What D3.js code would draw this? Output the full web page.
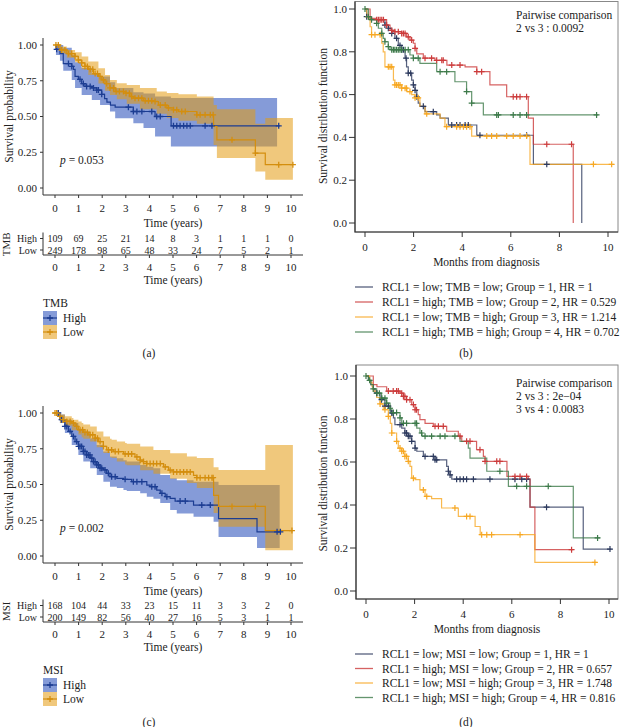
<!DOCTYPE html>
<html><head><meta charset="utf-8">
<script src="https://cdn.jsdelivr.net/npm/d3@7"></script>
<style>
body{margin:0;background:#fff}
svg{display:block}
text{font-family:"Liberation Serif","DejaVu Serif",serif;fill:#222}
</style>
</head><body>
<svg id="c" width="620" height="727"></svg>
<script>
// ---------------- DATA ----------------
const years = [0,1,2,3,4,5,6,7,8,9,10];
const riskGroups = ["High","Low"];
const tmbRiskHigh = [109,69,25,21,14,8,3,1,1,1,0];
const tmbRiskLow  = [249,178,98,65,48,33,24,7,5,2,1];
const msiRiskHigh = [168,104,44,33,23,15,11,3,3,2,0];
const msiRiskLow  = [200,149,82,56,40,27,16,5,3,1,1];

// panel (a) TMB: [time, survival]
const tmbHighCurve = [[0,1],[0.04,0.97],[0.21,0.94],[0.35,0.87],[0.71,0.85],[0.78,0.83],[0.85,0.78],[0.99,0.76],[1.13,0.73],[1.27,0.71],[1.55,0.70],[1.77,0.685],[1.98,0.655],[2.1,0.625],[2.2,0.6],[2.35,0.58],[2.55,0.565],[3.32,0.535],[4.24,0.50],[4.92,0.435],[9.52,0.435]];
const tmbHighCensor = [0.07,0.57,0.71,1.06,1.2,1.34,1.49,1.63,1.77,1.84,1.98,3.11,3.32,3.47,3.68,4.1,4.31,4.46,5.02,5.16,5.3,5.45,5.59,5.73,6.36,6.65,9.48];
// [time, lower, upper]
const tmbHighBand = [[0,1,1],[0.04,0.93,1],[0.21,0.89,1],[0.35,0.82,0.98],[0.71,0.756,0.93],[0.85,0.70,0.88],[1.13,0.65,0.84],[1.56,0.616,0.80],[1.91,0.58,0.78],[2.33,0.535,0.74],[2.55,0.488,0.70],[3.32,0.453,0.67],[3.75,0.42,0.66],[4.24,0.36,0.64],[4.91,0.29,0.63],[9.41,0.29,0.63]];
const tmbLowCurve = [[0,1],[0.21,0.965],[0.5,0.94],[0.85,0.92],[0.99,0.895],[1.13,0.875],[1.27,0.85],[1.41,0.83],[1.63,0.80],[1.84,0.78],[1.98,0.756],[2.12,0.73],[2.33,0.70],[2.55,0.675],[2.97,0.663],[3.18,0.64],[3.32,0.628],[3.75,0.61],[4.17,0.605],[4.38,0.58],[4.74,0.56],[5.02,0.547],[5.23,0.535],[6.01,0.512],[6.72,0.43],[6.86,0.337],[8.49,0.244],[8.91,0.163],[10.08,0.163]];
const tmbLowCensor = [0.04,0.14,0.28,0.42,0.57,0.71,0.85,0.99,1.13,1.27,1.37,1.49,1.6,1.7,1.8,1.91,2.05,2.19,2.33,2.48,2.59,2.73,2.9,3.01,3.15,3.25,3.39,3.54,3.68,3.82,3.96,4.1,4.24,4.46,4.67,4.81,5.02,5.16,5.37,5.52,6.01,6.15,6.36,6.58,6.7,7.5,8.49,9.48,10.08];
const tmbLowBand = [[0,1,1],[0.21,0.94,0.99],[0.5,0.91,0.965],[0.85,0.88,0.95],[1.13,0.83,0.92],[1.41,0.79,0.884],[1.84,0.73,0.837],[2.12,0.68,0.79],[2.33,0.65,0.756],[2.62,0.62,0.733],[3.04,0.59,0.72],[3.6,0.55,0.70],[4.31,0.52,0.675],[4.74,0.49,0.665],[5.23,0.47,0.655],[6.01,0.45,0.64],[6.72,0.3,0.58],[6.86,0.21,0.55],[8.49,0.116,0.45],[8.91,0.058,0.49],[10.08,0.058,0.49]];

// panel (c) MSI
const msiHighCurve = [[0,1],[0.21,0.953],[0.42,0.906],[0.57,0.871],[0.71,0.836],[0.85,0.80],[0.99,0.766],[1.2,0.731],[1.34,0.707],[1.49,0.684],[1.63,0.66],[1.77,0.637],[1.91,0.614],[2.05,0.602],[2.19,0.578],[2.33,0.555],[2.62,0.543],[2.9,0.536],[3.25,0.52],[3.89,0.496],[4.03,0.485],[4.31,0.461],[4.46,0.438],[4.67,0.415],[4.88,0.403],[5.09,0.384],[5.87,0.356],[6.93,0.262],[8.56,0.169],[9.52,0.169]];
const msiHighCensor = [0.07,0.14,0.28,0.42,0.5,0.64,0.78,0.92,1.0,1.06,1.13,1.2,1.27,1.34,1.41,1.48,1.56,1.63,1.7,1.77,1.84,1.91,1.98,2.12,2.26,2.4,2.55,2.97,3.32,3.47,3.68,4.1,4.24,4.53,4.74,5.3,5.52,6.22,6.58,9.41,9.55];
const msiHighBand = [[0,1,1],[0.21,0.93,0.99],[0.42,0.86,0.953],[0.71,0.777,0.93],[0.99,0.707,0.89],[1.2,0.66,0.871],[1.49,0.614,0.824],[1.77,0.567,0.777],[2.05,0.52,0.731],[2.33,0.485,0.696],[2.62,0.475,0.684],[2.9,0.461,0.67],[3.04,0.455,0.66],[3.61,0.438,0.637],[3.89,0.415,0.625],[4.17,0.40,0.614],[4.46,0.37,0.567],[4.88,0.321,0.543],[5.16,0.297,0.53],[5.87,0.274,0.52],[6.72,0.239,0.52],[6.93,0.133,0.496],[8.56,0.056,0.496],[9.52,0.056,0.496]];
const msiLowCurve = [[0,1],[0.14,0.977],[0.28,0.953],[0.5,0.941],[0.71,0.93],[0.85,0.906],[0.99,0.883],[1.2,0.864],[1.41,0.848],[1.7,0.824],[1.84,0.80],[2.05,0.766],[2.19,0.742],[2.48,0.73],[2.9,0.714],[3.39,0.693],[3.61,0.67],[3.75,0.66],[3.89,0.646],[4.6,0.623],[4.81,0.60],[5.02,0.588],[5.87,0.564],[6.01,0.548],[6.72,0.424],[6.93,0.347],[8.91,0.178],[10.08,0.178]];
const msiLowCensor = [0.0,0.07,0.21,0.35,0.5,0.64,0.78,0.92,1.06,1.17,1.27,1.37,1.49,1.6,1.7,1.8,1.91,2.05,2.26,2.4,2.55,2.69,2.97,3.11,3.25,3.47,3.61,3.75,3.89,4.03,4.17,4.31,4.46,4.67,4.88,5.02,5.16,5.3,5.45,5.59,5.73,6.01,6.15,6.36,6.51,6.65,6.7,7.5,8.49,10.04];
const msiLowBand = [[0,1,1],[0.21,0.93,0.99],[0.42,0.91,0.977],[0.71,0.88,0.965],[0.78,0.88,0.953],[0.99,0.85,0.94],[1.13,0.83,0.93],[1.2,0.82,0.92],[1.49,0.80,0.906],[1.77,0.76,0.871],[2.05,0.72,0.836],[2.33,0.69,0.82],[2.4,0.685,0.813],[2.62,0.66,0.80],[2.97,0.64,0.79],[3.04,0.635,0.785],[3.61,0.60,0.766],[4.17,0.575,0.742],[4.88,0.54,0.719],[5.59,0.51,0.696],[6.01,0.475,0.685],[6.72,0.3,0.62],[6.93,0.204,0.602],[8.91,0.04,0.777],[10.08,0.04,0.777]];

// panel (b) RCL1 x TMB groups
const tmbGroupLabels = ["RCL1 = low; TMB = low; Group = 1, HR = 1","RCL1 = high; TMB = low; Group = 2, HR = 0.529","RCL1 = low; TMB = high; Group = 3, HR = 1.214","RCL1 = high; TMB = high; Group = 4, HR = 0.702"];
const tmbG1 = [[0,1],[0.07,0.964],[0.27,0.95],[0.82,0.925],[0.96,0.91],[1.1,0.886],[1.23,0.863],[1.37,0.83],[1.51,0.81],[1.65,0.77],[1.71,0.73],[1.78,0.70],[1.92,0.668],[1.99,0.645],[2.06,0.62],[2.13,0.59],[2.19,0.56],[2.26,0.545],[2.47,0.52],[2.95,0.505],[3.09,0.49],[3.43,0.458],[4.6,0.41],[6.93,0.274],[8.92,0]];
const tmbG1Censor = [0.07,0.82,0.96,1.1,1.3,1.44,1.51,1.58,1.69,1.78,1.88,1.99,2.06,2.13,2.4,2.81,3.57,3.77,3.91,4.12,4.25,4.73,6.65,7.48];
const tmbG2 = [[0,1],[0.21,0.956],[0.48,0.95],[0.89,0.925],[1.03,0.90],[1.23,0.894],[1.51,0.886],[1.71,0.87],[1.85,0.855],[1.99,0.84],[2.06,0.816],[2.13,0.79],[2.4,0.77],[2.88,0.76],[3.37,0.738],[4.12,0.73],[4.6,0.707],[5.14,0.645],[5.83,0.59],[6.72,0.49],[6.93,0.368],[8.57,0]];
const tmbG2Censor = [0.48,0.55,0.62,0.69,0.76,0.89,1.1,1.23,1.37,1.51,1.58,1.65,1.78,1.92,2.06,2.47,2.74,2.95,3.16,3.22,3.57,3.91,4.6,4.8,6.1,6.24,6.38,6.65,7.48,8.5];
const tmbG3 = [[0,1],[0.07,0.964],[0.21,0.917],[0.27,0.88],[0.69,0.84],[0.75,0.80],[0.82,0.73],[1.17,0.668],[1.23,0.645],[1.51,0.63],[1.72,0.614],[1.92,0.60],[2.06,0.585],[2.26,0.545],[2.47,0.51],[3.09,0.49],[3.29,0.45],[4.39,0.406],[6.79,0.274],[10.23,0.274]];
const tmbG3Censor = [0.14,0.27,0.41,0.62,0.96,1.03,1.1,1.23,1.3,1.37,1.44,1.51,1.65,1.71,1.85,2.06,2.19,2.54,3.36,3.77,3.91,4.05,4.18,4.32,5.01,5.21,5.42,5.83,6.1,6.38,6.65,9.4,10.15];
const tmbG4 = [[0,1],[0.14,0.964],[0.21,0.95],[0.48,0.933],[0.55,0.91],[0.69,0.886],[0.75,0.863],[0.82,0.847],[0.96,0.824],[1.03,0.81],[1.85,0.785],[1.99,0.77],[2.26,0.746],[2.95,0.707],[3.7,0.66],[4.18,0.614],[4.39,0.56],[4.87,0.505],[9.6,0.505]];
const tmbG4Censor = [0,0.14,0.27,0.48,0.69,0.82,0.96,1.1,1.17,1.23,1.3,1.37,1.44,1.51,1.65,1.78,1.99,2.19,3.09,3.36,4.18,4.39,5.42,5.49,6.1,6.38,6.65,9.53];
const tmbPairwise = ["Pairwise comparison","2 vs 3 : 0.0092"];

// panel (d) RCL1 x MSI groups
const msiGroupLabels = ["RCL1 = low; MSI = low; Group = 1, HR = 1","RCL1 = high; MSI = low; Group = 2, HR = 0.657","RCL1 = low; MSI = high; Group = 3, HR = 1.748","RCL1 = high; MSI = high; Group = 4, HR = 0.816"];
const msiG1 = [[0,1],[0.1,0.98],[0.2,0.96],[0.3,0.94],[0.37,0.92],[0.58,0.89],[0.78,0.86],[1.0,0.828],[1.13,0.805],[1.19,0.774],[1.47,0.758],[1.6,0.735],[1.74,0.72],[1.88,0.696],[2.02,0.665],[2.09,0.65],[2.36,0.626],[2.84,0.61],[3.32,0.58],[3.39,0.557],[3.46,0.54],[3.53,0.52],[6.75,0.39],[8.94,0.195],[10.1,0.195]];
const msiG1Censor = [0.44,0.64,0.78,0.92,1.06,1.12,1.4,1.6,1.67,1.74,1.81,1.88,2.02,2.43,2.77,2.84,2.91,3.39,3.46,3.73,3.87,4.01,4.14,4.42,5.1,6.13,6.41,6.61,7.43,10.04];
const msiG2 = [[0,1],[0.3,0.96],[0.45,0.95],[0.85,0.93],[1.4,0.92],[1.54,0.905],[1.67,0.89],[1.88,0.867],[2.02,0.843],[2.15,0.82],[2.22,0.797],[2.43,0.78],[2.77,0.766],[3.32,0.743],[3.8,0.72],[3.94,0.696],[4.55,0.657],[4.83,0.626],[4.9,0.603],[5.8,0.533],[6.68,0.52],[6.75,0.39],[6.95,0.192],[8.53,0.192]];
const msiG2Censor = [0.92,1.12,1.26,1.33,1.47,1.54,1.6,1.67,1.81,1.95,2.02,2.08,2.84,2.98,3.18,3.87,4.14,4.28,4.69,4.9,5.38,5.51,6.13,6.34,6.61,8.46];
const msiG3 = [[0,1],[0.15,0.97],[0.25,0.95],[0.3,0.93],[0.44,0.9],[0.58,0.87],[0.71,0.843],[0.92,0.812],[1.0,0.78],[1.06,0.735],[1.26,0.696],[1.33,0.665],[1.47,0.65],[1.6,0.626],[1.74,0.603],[1.81,0.58],[1.88,0.525],[2.02,0.518],[2.22,0.47],[2.43,0.44],[2.7,0.43],[3.11,0.386],[3.8,0.347],[4.49,0.30],[4.7,0.262],[6.95,0.133],[9.49,0.133]];
const msiG3Censor = [0.58,0.78,0.92,1.06,1.26,1.4,1.47,1.54,1.6,1.67,1.74,1.95,2.36,2.5,3.66,4.14,4.28,4.76,4.97,5.17,6.34,9.42];
const msiG4 = [[0,1],[0.1,0.98],[0.2,0.96],[0.3,0.94],[0.44,0.92],[0.64,0.897],[0.85,0.874],[0.99,0.85],[1.06,0.83],[1.4,0.805],[1.47,0.78],[2.09,0.758],[2.22,0.735],[2.3,0.72],[3.87,0.696],[4.21,0.665],[4.28,0.618],[4.97,0.557],[5.86,0.487],[8.53,0.247],[9.63,0.247]];
const msiG4Censor = [0,0.15,0.3,0.45,0.55,0.65,0.78,0.85,0.99,1.12,1.26,1.4,1.54,1.67,2.02,2.08,2.29,2.43,2.7,3.05,3.25,3.66,5.51,6.2,6.61,7.5,9.53];
const msiPairwise = ["Pairwise comparison","2 vs 3 : 2e\u221204","3 vs 4 : 0.0083"];

// ---------------- STYLE ----------------
const blueLine = "#1c3d92", orangeLine = "#d48e0e";
const blueFill = "#2d52bb", orangeFill = "#e39a10";
const groupColors = ["#2d3a5e","#cc3b3b","#f7a823","#3d7a4a"];

const svg = d3.select("#c");

function survAt(curve, t){ let s = curve[0][1]; for (const [ti,si] of curve) if (ti <= t) s = si; return s; }
function cross(sel, x, y, sz, color, w){
  sel.append("path").attr("d", `M${x-sz},${y}h${2*sz}M${x},${y-sz}v${2*sz}`)
    .attr("stroke", color).attr("stroke-width", w).attr("fill","none");
}

// ---------------- KM panels (a),(c) ----------------
function drawKM(o){
  const g = svg.append("g");
  const x = d3.scaleLinear().domain([0,10]).range([55,291]);
  const y = d3.scaleLinear().domain([0,1]).range([o.yBot, o.yTop]);
  const area = d3.area().curve(d3.curveStepAfter).x(d=>x(d[0])).y0(d=>y(d[1])).y1(d=>y(d[2]));
  const line = d3.line().curve(d3.curveStepAfter).x(d=>x(d[0])).y(d=>y(d[1]));
  g.append("path").attr("d", area(o.highBand)).attr("fill", blueFill).attr("fill-opacity", 0.58);
  g.append("path").attr("d", area(o.lowBand)).attr("fill", orangeFill).attr("fill-opacity", 0.55);
  g.append("path").attr("d", line(o.highCurve)).attr("stroke", blueLine).attr("stroke-width",1.2).attr("fill","none");
  g.append("path").attr("d", line(o.lowCurve)).attr("stroke", orangeLine).attr("stroke-width",1.2).attr("fill","none");
  o.highCensor.forEach(t => cross(g, x(t), y(survAt(o.highCurve,t)), 3, blueLine, 1.3));
  o.lowCensor.forEach(t => cross(g, x(t), y(survAt(o.lowCurve,t)), 3, orangeLine, 1.3));

  // axes
  const axisY = o.yBot + 7;
  g.append("line").attr("x1",43).attr("x2",43).attr("y1",o.yTop-7).attr("y2",axisY).attr("stroke","#333");
  g.append("line").attr("x1",43).attr("x2",303).attr("y1",axisY).attr("y2",axisY).attr("stroke","#333");
  [0,0.25,0.5,0.75,1].forEach(v=>{
    g.append("line").attr("x1",40).attr("x2",43).attr("y1",y(v)).attr("y2",y(v)).attr("stroke","#333");
    g.append("text").attr("x",37).attr("y",y(v)).attr("dy","0.35em").attr("text-anchor","end").attr("font-size",11).text(d3.format(".2f")(v));
  });
  years.forEach(v=>{
    g.append("line").attr("x1",x(v)).attr("x2",x(v)).attr("y1",axisY).attr("y2",axisY+3).attr("stroke","#333");
    g.append("text").attr("x",x(v)).attr("y",axisY+13).attr("dy","0.35em").attr("text-anchor","middle").attr("font-size",11).text(v);
  });
  g.append("text").attr("x",173).attr("y",axisY+28).attr("dy","0.35em").attr("text-anchor","middle").attr("font-size",11.5).text("Time (years)");
  g.append("text").attr("transform",`translate(9,${(o.yTop+o.yBot)/2}) rotate(-90)`).attr("dy","0.35em").attr("text-anchor","middle").attr("font-size",11.5).text("Survival probability");
  const pt = g.append("text").attr("x",60).attr("y",y(o.pAt)).attr("dy","0.35em").attr("font-size",11.5);
  pt.append("tspan").attr("font-style","italic").text("p");
  pt.append("tspan").text(" = " + o.pValue);

  // risk table
  const rows = [o.riskHigh, o.riskLow];
  const rowY = o.riskY;
  rows.forEach((r,i)=>{
    r.forEach((n,j)=> g.append("text").attr("x",x(years[j])).attr("y",rowY[i]).attr("dy","0.35em").attr("text-anchor","middle").attr("font-size",o.riskFont).text(n));
    g.append("text").attr("x",37).attr("y",rowY[i]).attr("dy","0.35em").attr("text-anchor","end").attr("font-size",o.riskFont).text(riskGroups[i]);
    g.append("line").attr("x1",40).attr("x2",43).attr("y1",rowY[i]).attr("y2",rowY[i]).attr("stroke","#333");
  });
  const tY = o.riskAxis;
  g.append("line").attr("x1",43).attr("x2",43).attr("y1",rowY[0]-6).attr("y2",tY).attr("stroke","#333");
  g.append("line").attr("x1",43).attr("x2",303).attr("y1",tY).attr("y2",tY).attr("stroke","#333");
  years.forEach(v=>{
    g.append("line").attr("x1",x(v)).attr("x2",x(v)).attr("y1",tY).attr("y2",tY+3).attr("stroke","#333");
    g.append("text").attr("x",x(v)).attr("y",tY+12).attr("dy","0.35em").attr("text-anchor","middle").attr("font-size",11).text(v);
  });
  g.append("text").attr("x",173).attr("y",tY+25).attr("dy","0.35em").attr("text-anchor","middle").attr("font-size",11.5).text("Time (years)");
  g.append("text").attr("transform",`translate(6.5,${(rowY[0]+rowY[1])/2}) rotate(-90)`).attr("dy","0.35em").attr("text-anchor","middle").attr("font-size",11).text(o.name);

  // legend
  const lg = o.legendY;
  g.append("text").attr("x",43).attr("y",lg).attr("dy","0.35em").attr("font-size",11.5).text(o.name);
  [[blueFill,0.58,blueLine,"High"],[orangeFill,0.55,orangeLine,"Low"]].forEach((d,i)=>{
    const ky = lg + 8 + i*14;
    g.append("rect").attr("x",43).attr("y",ky).attr("width",14).attr("height",14).attr("fill",d[0]).attr("fill-opacity",d[1]);
    g.append("line").attr("x1",43).attr("x2",57).attr("y1",ky+7).attr("y2",ky+7).attr("stroke",d[2]).attr("stroke-width",1.2);
    cross(g, 50, ky+7, 3, d[2], 1.3);
    g.append("text").attr("x",63).attr("y",ky+7).attr("dy","0.35em").attr("font-size",11.5).text(d[3]);
  });
  g.append("text").attr("x",149).attr("y",o.labelY).attr("dy","0.35em").attr("text-anchor","middle").attr("font-size",11.5).text(o.label);
}

drawKM({yTop:45,yBot:188,highBand:tmbHighBand,lowBand:tmbLowBand,highCurve:tmbHighCurve,lowCurve:tmbLowCurve,
  highCensor:tmbHighCensor,lowCensor:tmbLowCensor,pAt:0.196,pValue:"0.053",riskHigh:tmbRiskHigh,riskLow:tmbRiskLow,
  riskY:[238.5,250],riskAxis:255,riskFont:10,name:"TMB",legendY:303,label:"(a)",labelY:353});
drawKM({yTop:413,yBot:556,highBand:msiHighBand,lowBand:msiLowBand,highCurve:msiHighCurve,lowCurve:msiLowCurve,
  highCensor:msiHighCensor,lowCensor:msiLowCensor,pAt:0.196,pValue:"0.002",riskHigh:msiRiskHigh,riskLow:msiRiskLow,
  riskY:[605.5,617],riskAxis:622,riskFont:10,name:"MSI",legendY:670,label:"(c)",labelY:722});

// ---------------- group panels (b),(d) ----------------
function drawGroups(o){
  const g = svg.append("g");
  const x = d3.scaleLinear().domain([0,10]).range([o.x0, o.x1]);
  const y = d3.scaleLinear().domain([0,1]).range([o.yBot, o.yTop]);
  const line = d3.line().curve(d3.curveStepAfter).x(d=>x(d[0])).y(d=>y(d[1]));
  g.append("rect").attr("x",o.box[0]).attr("y",o.box[1]).attr("width",o.box[2]-o.box[0]).attr("height",o.box[3]-o.box[1])
    .attr("fill","none").attr("stroke","#888").attr("stroke-width",1);
  g.append("path").attr("d",`M${o.box[0]},${o.box[1]}V${o.box[3]}H${o.box[2]}`).attr("fill","none").attr("stroke","#333").attr("stroke-width",1.2);
  o.curves.forEach((c,i)=>{
    g.append("path").attr("d", line(c)).attr("stroke", groupColors[i]).attr("stroke-opacity",0.8).attr("stroke-width",1.2).attr("fill","none");
  });
  o.censors.forEach((cs,i)=> cs.forEach(t => cross(g, x(t), y(survAt(o.curves[i],t)), 3, groupColors[i], 1.2)));
  [0,0.2,0.4,0.6,0.8,1].forEach(v=>{
    g.append("line").attr("x1",o.box[0]-6).attr("x2",o.box[0]).attr("y1",y(v)).attr("y2",y(v)).attr("stroke","#333");
    g.append("text").attr("x",o.box[0]-8).attr("y",y(v)).attr("dy","0.35em").attr("text-anchor","end").attr("font-size",11).text(d3.format(".1f")(v));
  });
  [0,2,4,6,8,10].forEach(v=>{
    g.append("line").attr("x1",x(v)).attr("x2",x(v)).attr("y1",o.box[3]).attr("y2",o.box[3]+5).attr("stroke","#333");
    g.append("text").attr("x",x(v)).attr("y",o.box[3]+15).attr("dy","0.35em").attr("text-anchor","middle").attr("font-size",11).text(v);
  });
  g.append("text").attr("x",(o.box[0]+o.box[2])/2).attr("y",o.box[3]+30).attr("dy","0.35em").attr("text-anchor","middle").attr("font-size",11.5).text("Months from diagnosis");
  g.append("text").attr("transform",`translate(323,${(o.yTop+o.yBot)/2}) rotate(-90)`).attr("dy","0.35em").attr("text-anchor","middle").attr("font-size",11.5).text("Survival distribution function");
  o.pairwise.forEach((s,i)=> g.append("text").attr("x",516).attr("y",o.pairY + i*13).attr("dy","0.35em").attr("font-size",11.5).text(s));
  o.labels.forEach((s,i)=>{
    const ly = o.legY + i*o.legStep;
    g.append("line").attr("x1",355).attr("x2",373).attr("y1",ly).attr("y2",ly).attr("stroke",groupColors[i]).attr("stroke-opacity",0.8).attr("stroke-width",1.3);
    g.append("text").attr("x",382).attr("y",ly).attr("dy","0.35em").attr("font-size",11.5).text(s);
  });
  g.append("text").attr("x",466).attr("y",o.labelY).attr("dy","0.35em").attr("text-anchor","middle").attr("font-size",11.5).text(o.label);
}

drawGroups({x0:365,x1:608,yTop:9,yBot:223,box:[355,1.5,618,232],curves:[tmbG1,tmbG2,tmbG3,tmbG4],
  censors:[tmbG1Censor,tmbG2Censor,tmbG3Censor,tmbG4Censor],pairwise:tmbPairwise,pairY:15,
  labels:tmbGroupLabels,legY:287,legStep:15,label:"(b)",labelY:353});
drawGroups({x0:366,x1:609,yTop:376,yBot:591,box:[356,365,618,599],curves:[msiG1,msiG2,msiG3,msiG4],
  censors:[msiG1Censor,msiG2Censor,msiG3Censor,msiG4Censor],pairwise:msiPairwise,pairY:383,
  labels:msiGroupLabels,legY:654,legStep:14.5,label:"(d)",labelY:722});
</script>
</body></html>
